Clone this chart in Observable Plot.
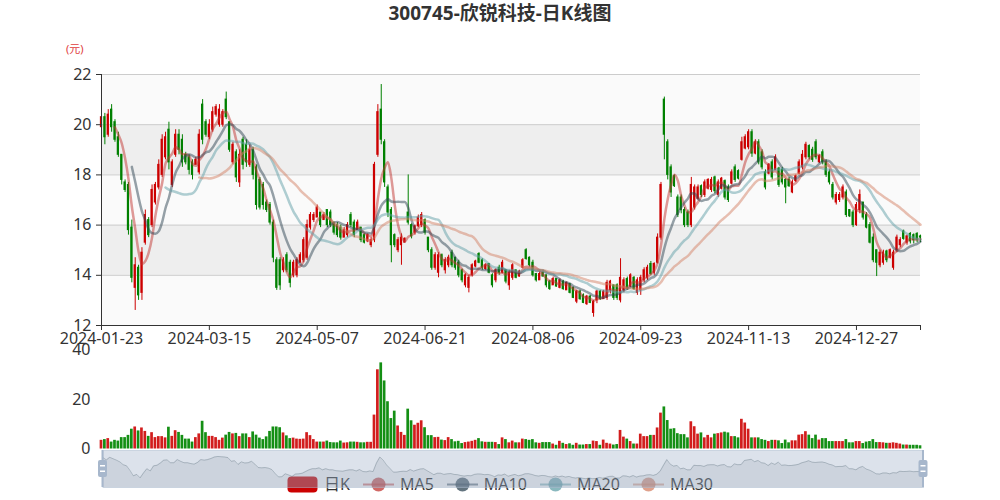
<!DOCTYPE html>
<html>
<head>
<meta charset="utf-8">
<script src="https://cdn.jsdelivr.net/npm/d3@7"></script>
<script src="https://cdn.jsdelivr.net/npm/@observablehq/plot@0.6"></script>
<style>
  html, body { margin: 0; padding: 0; background: #fff; }
  #wrap { position: relative; width: 1000px; height: 500px; overflow: hidden;
          font-family: "Noto Sans", "Noto Sans CJK SC", sans-serif; }
  #title { position: absolute; left: 0; top: 2px; width: 1000px; text-align: center;
           font-weight: bold; font-size: 19px; line-height: 23px; color: #333; }
  #unit { position: absolute; left: 66px; top: 41px; font-size: 11px; line-height: 15px; color: #e03c3c; }
  .layer { position: absolute; left: 0; }
  .layer svg { display: block; overflow: visible; }
  #legend { position: absolute; left: 0; top: 476px; width: 1000px; height: 17px; display: flex;
            justify-content: center; align-items: center; gap: 13px; z-index: 1;
            font-size: 16px; color: #333; }
  .item { display: flex; align-items: center; gap: 6px; line-height: 17px; }
  #slider { z-index: 2; }
</style>
</head>
<body>
<div id="wrap">
  <div id="title"></div>
  <div id="unit"></div>
  <div id="mainL" class="layer" style="top:0px"></div>
  <div id="volL" class="layer" style="top:336px"></div>
  <div id="legend"></div>
  <div id="slider" class="layer" style="top:450px"></div>
</div>
<script>
// ---------------- data ----------------
const titleText = "300745-欣锐科技-日K线图";
const unitText = "(元)";
const tickIndex = [0, 32, 64, 96, 128, 160, 192, 224];
const tickLabels = ["2024-01-23", "2024-03-15", "2024-05-07", "2024-06-21", "2024-08-06", "2024-09-23", "2024-11-13", "2024-12-27"];
const yTicks = [12, 14, 16, 18, 20, 22];
const volTicks = [0, 20, 40];
const seriesNames = ["日K", "MA5", "MA10", "MA20", "MA30"];
const maPeriods = [5, 10, 20, 30];

const open = [
19.9,20.3,19.6,20.6,20.1,19.5,18.8,17.7,17.6,15.9,
13.5,14.3,13.3,15.3,16.2,16.0,16.9,17.5,18.0,18.7,
19.8,17.6,18.8,19.6,19.4,18.8,18.7,18.5,18.4,18.1,
20.8,20.1,19.5,19.8,20.4,20.0,20.0,21.0,20.1,18.5,
18.9,17.7,19.4,19.2,18.4,19.0,18.3,17.8,17.6,16.9,
16.8,16.1,14.6,14.6,14.2,14.8,14.5,14.0,14.0,14.5,
14.6,14.7,15.9,16.2,16.3,16.5,16.2,16.6,16.5,16.1,
16.0,15.9,15.5,15.6,16.4,16.1,15.8,15.9,15.6,15.35,
15.2,15.4,18.8,20.6,19.3,17.5,16.6,15.6,15.0,15.2,
15.3,16.5,16.0,15.7,15.95,16.0,16.2,15.5,15.0,14.3,
14.1,14.8,14.2,14.4,14.9,14.7,14.5,14.2,13.6,13.5,
14.0,14.35,14.85,14.6,14.25,14.45,14.0,13.8,14.3,14.1,
14.2,13.6,13.9,14.2,13.95,14.3,15.0,14.7,14.5,14.05,
13.8,14.1,14.0,13.75,13.6,13.85,13.5,13.75,13.4,13.65,
13.5,12.95,13.35,13.2,12.85,13.15,12.5,13.0,13.35,13.05,
13.1,13.4,13.6,13.6,13.0,13.4,13.85,13.55,13.9,13.3,
13.4,13.8,13.9,14.45,14.1,14.5,15.5,21.0,19.3,18.3,
17.95,17.1,17.1,16.6,16.5,16.0,16.7,17.05,17.55,17.2,
17.45,17.4,17.9,17.2,17.45,17.75,17.5,17.65,18.3,18.15,
18.6,19.05,19.1,19.7,18.85,19.3,18.9,18.1,18.05,18.5,
18.2,18.25,18.2,17.8,17.8,17.3,17.75,18.05,18.3,18.7,
19.15,19.0,19.3,18.5,18.9,18.5,18.1,17.6,16.9,17.0,
17.1,17.3,16.6,16.5,16.0,16.6,16.9,16.4,16.0,15.5,
15.0,14.4,14.5,14.95,14.7,14.3,15.0,15.2,15.75,15.3,
15.65,15.6,15.65,15.55];

const high = [
20.45,20.45,20.6,20.8,20.2,19.7,18.8,17.8,17.7,16.2,
14.7,14.4,15.1,16.6,16.3,17.6,17.7,18.6,19.6,19.7,
20.1,18.6,19.8,19.8,19.6,18.9,18.8,18.6,18.7,19.8,
21.0,20.2,20.2,20.7,20.8,20.8,20.6,21.3,20.1,19.3,
19.0,19.0,19.5,19.4,19.2,19.1,18.4,17.9,17.7,17.0,
16.9,16.2,14.7,14.7,14.7,14.9,14.6,14.6,14.7,14.9,
15.5,16.2,16.5,16.5,16.8,16.5,16.5,16.6,16.6,16.1,
16.1,16.0,15.9,16.1,16.5,16.2,16.2,15.9,15.65,15.65,
15.5,18.5,20.8,21.6,19.4,17.6,16.7,15.65,15.5,15.65,
15.5,18.0,16.05,16.0,16.4,16.5,16.25,15.5,15.1,14.9,
14.9,14.85,14.7,14.8,15.0,14.7,14.6,14.25,14.06,14.0,
14.46,14.6,14.9,14.66,14.46,14.46,14.06,14.26,14.4,14.6,
14.2,14.2,14.46,14.2,14.2,14.66,15.06,14.73,14.6,14.06,
14.13,14.2,14.0,13.8,13.93,13.86,13.86,13.8,13.73,13.66,
13.53,13.4,13.4,13.26,13.2,13.2,13.0,13.4,13.4,13.4,
13.8,13.8,13.6,13.66,14.66,13.9,13.93,14.06,13.95,13.9,
14.0,14.3,14.4,14.55,14.5,15.65,17.7,21.1,19.4,18.4,
18.0,17.2,17.2,16.7,16.6,17.9,17.6,17.6,17.6,17.8,
17.85,17.9,17.95,17.8,17.9,17.8,17.6,18.2,18.4,18.2,
19.5,19.6,19.8,19.8,19.4,19.4,19.0,18.2,18.45,18.6,
18.8,18.3,18.3,17.85,17.9,17.8,18.0,18.6,18.97,19.3,
19.2,19.1,19.4,18.8,19.0,18.6,18.2,17.7,17.3,17.3,
17.6,17.4,16.6,16.6,16.9,17.4,16.9,16.5,16.1,15.65,
15.0,15.0,15.0,15.0,15.05,15.0,15.6,15.5,15.8,15.6,
15.7,15.65,15.7,15.6];

const low = [
19.8,19.2,19.5,19.7,19.3,18.7,17.6,17.3,15.6,13.7,
12.6,13.0,13.0,15.2,15.5,15.9,16.8,17.4,17.9,18.6,
18.2,17.5,18.7,18.8,18.3,18.4,18.0,17.8,18.4,18.0,
19.2,19.5,19.4,19.7,20.3,19.9,19.9,20.2,18.9,18.4,
17.7,17.5,18.2,18.3,18.3,17.8,16.6,16.6,16.6,16.5,
16.0,14.5,13.4,13.4,14.1,14.1,13.5,13.9,13.9,14.5,
14.5,14.6,15.8,16.1,16.3,15.9,16.2,15.9,15.9,15.6,
15.5,15.4,15.5,15.5,15.9,15.5,15.8,15.3,15.25,15.3,
15.1,15.3,18.7,19.2,17.5,16.3,14.5,15.1,14.9,14.4,
15.3,16.0,15.45,15.6,15.9,15.9,15.6,14.9,14.2,14.2,
13.9,14.3,14.05,14.3,14.3,14.2,13.9,13.7,13.5,13.3,
13.93,14.3,14.46,14.2,14.2,14.06,13.5,13.7,14.0,14.06,
13.66,13.4,13.8,13.86,13.93,14.26,14.6,14.33,13.93,13.73,
13.8,13.93,13.5,13.4,13.6,13.53,13.46,13.4,13.4,13.26,
13.07,12.87,13.0,12.87,12.8,12.87,12.33,12.87,13.0,13.05,
13.0,13.26,13.0,13.0,12.9,13.3,13.4,13.5,13.4,13.2,
13.2,13.7,13.8,14.0,14.0,14.45,15.4,18.6,17.8,17.1,
17.5,16.3,16.45,15.9,15.9,15.9,16.6,17.0,17.1,17.1,
17.4,17.3,17.25,17.1,17.4,17.0,16.9,17.6,17.7,17.8,
18.55,19.0,19.0,18.7,18.8,18.4,18.2,17.4,18.0,17.8,
18.2,17.5,17.6,16.85,17.5,17.25,17.7,18.0,18.2,18.6,
18.6,18.5,18.6,18.45,18.4,17.9,17.6,17.0,16.8,16.9,
17.0,16.3,16.3,15.9,15.95,16.45,16.2,15.85,15.25,14.5,
13.95,14.3,14.4,14.5,14.65,14.2,14.9,15.1,15.4,15.2,
15.25,15.25,15.3,15.3];

const close = [
20.3,19.5,20.4,19.9,19.4,18.8,17.8,17.4,15.8,13.9,
14.4,13.2,14.9,16.4,15.6,17.4,17.6,18.4,19.4,19.5,
18.5,18.5,19.6,19.0,18.5,18.5,18.2,18.0,18.6,19.6,
19.4,19.6,20.0,20.5,20.7,20.6,20.5,20.3,19.0,19.2,
17.9,18.8,18.4,18.5,19.0,18.0,16.8,16.7,16.8,16.6,
16.1,14.7,13.5,13.6,14.6,14.2,13.7,14.5,14.6,14.8,
15.4,16.0,16.4,16.4,16.7,16.0,16.4,16.0,16.0,15.7,
15.6,15.5,15.8,16.0,16.0,15.6,16.1,15.4,15.3,15.6,
15.4,18.4,20.5,19.4,17.7,16.5,15.2,15.2,15.4,15.5,
15.45,16.1,15.55,15.95,16.3,16.4,15.7,15.0,14.3,14.8,
14.8,14.4,14.6,14.7,14.4,14.3,14.0,13.8,14.0,13.9,
14.4,14.55,14.5,14.3,14.4,14.1,13.6,14.2,14.1,14.5,
13.75,14.1,14.4,13.9,14.15,14.6,14.65,14.4,14.0,13.8,
14.05,13.95,13.6,13.45,13.85,13.55,13.8,13.45,13.7,13.3,
13.1,13.35,13.05,12.9,13.15,12.9,12.95,13.35,13.05,13.35,
13.7,13.75,13.1,13.1,13.9,13.8,13.5,14.0,13.45,13.8,
13.9,14.2,14.3,14.05,14.45,15.5,17.6,19.6,18.0,17.3,
17.55,16.4,16.6,16.0,16.0,17.6,17.5,17.5,17.2,17.7,
17.8,17.8,17.35,17.7,17.85,17.1,17.0,18.1,17.8,17.85,
19.3,19.5,19.7,18.85,19.3,18.5,18.3,17.5,18.4,17.9,
18.7,17.6,17.7,17.5,17.55,17.7,17.95,18.5,18.8,19.2,
18.7,18.6,18.7,18.75,18.5,18.0,17.7,17.1,17.2,17.2,
17.5,16.4,16.35,16.0,16.8,17.2,16.3,15.9,15.3,14.6,
14.5,14.9,14.9,14.6,15.0,14.9,15.5,15.4,15.45,15.55,
15.35,15.4,15.4,15.5];

const volume = [
3.5,3.8,4.2,2.8,3.5,3.2,4.6,4.6,5.5,8.0,
8.9,7.3,8.5,7.1,5.1,6.6,4.6,5.0,5.0,4.5,
8.8,5.1,7.4,6.7,5.5,4.0,4.0,2.8,4.6,6.1,
11.2,6.6,5.1,5.1,4.6,3.5,4.4,5.6,6.7,6.1,
6.3,5.0,6.1,6.1,4.6,6.9,5.6,4.4,3.8,4.9,
7.1,8.9,8.9,8.6,6.5,5.3,4.2,4.4,4.0,3.9,
4.0,6.6,5.4,3.8,2.8,2.8,2.8,3.2,2.6,2.5,
2.5,3.2,2.4,2.5,2.8,2.8,2.7,2.5,2.5,2.7,
2.7,13.7,32.0,34.8,27.5,19.1,12.3,15.3,9.3,6.7,
5.5,16.1,11.4,9.6,10.4,11.4,8.6,5.4,5.4,4.6,
4.7,3.6,3.4,4.6,3.8,2.9,3.1,2.2,2.6,2.8,
3.1,3.5,4.2,2.9,2.7,2.7,2.7,2.6,1.8,4.5,
3.8,2.5,3.2,2.5,2.5,4.0,3.8,3.5,3.8,2.5,
2.3,2.6,2.6,2.6,2.0,1.5,3.1,2.3,1.8,2.1,
1.5,2.3,1.6,1.6,1.8,1.8,3.2,3.0,1.5,3.6,
2.3,2.0,1.6,1.8,7.5,4.8,4.0,3.0,2.0,2.0,
6.0,5.0,5.0,5.5,5.5,8.5,14.5,17.0,11.5,8.0,
8.2,6.2,5.8,5.8,4.5,11.0,9.0,6.0,6.5,4.5,
5.5,4.5,6.0,6.2,6.5,6.8,6.5,5.0,5.0,4.5,
12.0,10.5,8.0,4.5,4.5,4.5,3.8,3.5,3.0,3.5,
3.5,3.3,2.2,3.6,2.5,3.3,3.3,5.6,5.8,7.0,
5.6,4.2,5.6,3.6,4.2,4.2,3.0,3.0,3.0,3.0,
3.0,3.8,2.5,2.5,3.0,3.0,2.2,2.8,3.0,3.8,
2.6,2.6,2.5,2.3,2.3,2.5,2.3,2.0,1.6,1.6,
1.5,1.5,1.5,1.3];

// ---------------- styles ----------------
const FONT = '"Noto Sans", "Noto Sans CJK SC", sans-serif';
const RED = "#cc0000", GREEN = "#008000";
const VRED = "#d21d1d", VGREEN = "#148f14";
const maColors = ["#c23531", "#2f4554", "#61a0a8", "#d48265"];

// ---------------- build ----------------
document.getElementById("title").textContent = titleText;
document.getElementById("unit").textContent = unitText;

const N = close.length;
const xDomain = [0, N - 1];
const rows = close.map((c, i) => ({i, o: open[i], h: high[i], l: low[i], c, v: volume[i], up: c >= open[i]}));
const labelOf = new Map(tickIndex.map((t, k) => [t, tickLabels[k]]));
const bands = d3.pairs(yTicks).map(([a, b], k) => ({y1: a, y2: b, k}));
const baseStyle = {fontFamily: FONT, fontSize: "16px", color: "#333", background: "transparent", overflow: "visible"};

const main = Plot.plot({
  width: 1000, height: 350,
  marginTop: 74, marginBottom: 25, marginLeft: 101, marginRight: 80,
  x: {domain: xDomain, label: null},
  y: {domain: [yTicks[0], yTicks[yTicks.length - 1]], label: null},
  color: {type: "identity"},
  style: baseStyle,
  marks: [
    Plot.rect(bands, {x1: xDomain[0], x2: xDomain[1], y1: "y1", y2: "y2", fill: d => d.k % 2 ? "#eeeeee" : "#fafafa"}),
    Plot.ruleY(yTicks.slice(1), {stroke: "#cccccc"}),
    Plot.ruleX(rows, {x: "i", y1: "l", y2: "h", stroke: d => d.up ? RED : GREEN, strokeWidth: 1}),
    Plot.rect(rows, {x1: d => d.i - 0.33, x2: d => d.i + 0.33, y1: "o", y2: "c",
                     fill: d => d.up ? RED : GREEN, insetTop: -0.5, insetBottom: -0.5}),
    ...maPeriods.map((k, j) => Plot.lineY(rows, Plot.windowY(
      {k, anchor: "end", strict: true, reduce: "mean"},
      {x: "i", y: "c", stroke: maColors[j], strokeWidth: 2.5, strokeOpacity: 0.5, curve: "monotone-x"}))),
    Plot.ruleX([xDomain[0]], {stroke: "#333"}),
    Plot.ruleY([yTicks[0]], {stroke: "#333"}),
    Plot.axisY({ticks: yTicks, tickSize: 5, tickPadding: 5, stroke: "#333", fill: "#333", label: null}),
    Plot.axisX({ticks: [...tickIndex, N - 1], tickFormat: i => labelOf.get(i) ?? "",
                tickSize: 5, tickPadding: 2, stroke: "#333", fill: "#333", label: null})
  ]
});
document.getElementById("mainL").append(main);

const vol = Plot.plot({
  width: 1000, height: 115,
  marginTop: 13.5, marginBottom: 2.5, marginLeft: 101, marginRight: 80,
  x: {domain: xDomain, axis: null},
  y: {domain: [volTicks[0], volTicks[volTicks.length - 1]], label: null},
  color: {type: "identity"},
  style: baseStyle,
  marks: [
    Plot.rect(rows, {x1: d => d.i - 0.4, x2: d => d.i + 0.4, y1: 0, y2: "v", fill: d => d.up ? VRED : VGREEN}),
    Plot.axisY({ticks: volTicks, tickSize: 0, tickPadding: 11, fill: "#333", label: null})
  ]
});
document.getElementById("volL").append(vol);

// legend
const legend = d3.select("#legend");
seriesNames.forEach((name, j) => {
  const item = legend.append("div").attr("class", "item");
  const svg = item.append("svg").attr("width", 31).attr("height", 17);
  if (j === 0) {
    svg.append("rect").attr("x", 0.5).attr("y", 0.5).attr("width", 30).attr("height", 16)
      .attr("rx", 4).attr("fill", RED);
  } else {
    const col = maColors[j - 1];
    svg.append("line").attr("x1", 0).attr("x2", 31).attr("y1", 8.5).attr("y2", 8.5)
      .attr("stroke", col).attr("stroke-width", 2).attr("stroke-opacity", 0.6);
    svg.append("circle").attr("cx", 15.5).attr("cy", 8.5).attr("r", 7)
      .attr("fill", col).attr("fill-opacity", 0.75);
  }
  item.append("span").text(name);
});

// data-zoom slider (shadow of close prices)
const sliderY = [9.8, 22.8];
const slider = Plot.plot({
  width: 1000, height: 37,
  marginTop: 0, marginBottom: 0, marginLeft: 102.5, marginRight: 77,
  x: {domain: xDomain, axis: null},
  y: {domain: sliderY, axis: null},
  style: baseStyle,
  marks: [
    Plot.frame({fill: "rgba(167,183,204,0.4)", stroke: "rgba(167,183,204,0.5)"}),
    Plot.areaY(rows, {x: "i", y1: sliderY[0], y2: "c", fill: "rgba(47,69,84,0.09)"}),
    Plot.lineY(rows, {x: "i", y: "c", stroke: "rgba(47,69,84,0.3)", strokeWidth: 0.8})
  ]
});
document.getElementById("slider").append(slider);
const sx = slider.scale("x");
const sh = d3.select(slider);
xDomain.forEach(v => {
  const px = sx.apply(v);
  const g = sh.append("g");
  g.append("rect").attr("x", px - 1).attr("y", 0).attr("width", 2).attr("height", 37).attr("fill", "#a7b7cc");
  g.append("rect").attr("x", px - 4.5).attr("y", 10).attr("width", 9).attr("height", 17).attr("rx", 2).attr("fill", "#a7b7cc");
  g.append("rect").attr("x", px - 2.5).attr("y", 15).attr("width", 5).attr("height", 1.5).attr("fill", "#fff");
  g.append("rect").attr("x", px - 2.5).attr("y", 20.5).attr("width", 5).attr("height", 1.5).attr("fill", "#fff");
});
</script>
</body>
</html>
